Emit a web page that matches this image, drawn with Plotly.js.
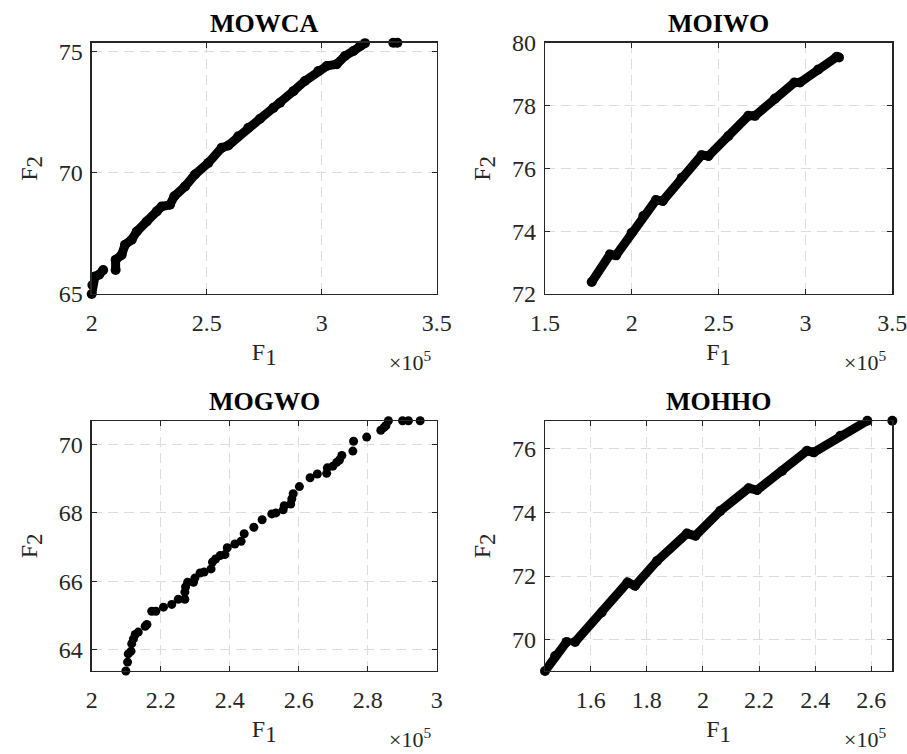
<!DOCTYPE html>
<html><head><meta charset="utf-8">
<script src="https://cdn.plot.ly/plotly-3.0.1.min.js"></script>
<style>html,body{margin:0;padding:0;background:#fff}</style>
</head><body><div id="chart" style="width:907px;height:754px"></div>
<script>
// F1 values are in units of 1e5 (as shown with the "×10^5" axis multiplier)
const mowcaF1 = [2.000,2.003,2.014,2.032,2.050,null,2.104,2.104,2.130,2.145,2.174,2.196,2.239,2.283,2.304,2.340,2.359,2.406,2.449,2.507,2.565,2.594,2.637,2.681,2.732,2.790,2.819,2.877,2.927,2.985,3.022,3.065,3.101,3.138,3.167,3.188,null,3.311,3.329];
const mowcaF2 = [65.00,65.37,65.72,65.79,65.99,null,65.99,66.41,66.61,67.03,67.24,67.58,67.99,68.41,68.61,68.68,69.03,69.44,69.93,70.41,71.03,71.13,71.51,71.86,72.23,72.68,72.89,73.37,73.79,74.20,74.41,74.48,74.82,75.03,75.24,75.35,null,75.37,75.37];

const moiwoF1 = [1.769,1.874,1.909,1.999,2.066,2.139,2.178,2.287,2.402,2.441,2.556,2.671,2.709,2.824,2.936,2.968,3.074,3.180,3.193];
const moiwoF2 = [72.38,73.26,73.23,73.95,74.48,74.99,74.96,75.70,76.42,76.39,77.03,77.67,77.67,78.22,78.73,78.73,79.15,79.55,79.53];

const mogwoF1 = [2.099,2.104,2.106,2.114,2.116,2.121,2.126,2.135,2.155,2.160,2.174,2.186,2.208,2.232,2.251,2.270,2.270,2.272,2.278,2.295,2.299,2.314,2.326,2.346,2.350,2.359,2.372,2.386,2.393,2.415,2.433,2.442,2.470,2.494,2.522,2.534,2.555,2.558,2.577,2.580,2.584,2.602,2.633,2.654,2.681,2.683,2.699,2.710,2.718,2.725,2.757,2.759,2.797,2.838,2.847,2.853,2.860,2.901,2.918,2.952];
const mogwoF2 = [63.37,63.63,63.87,63.95,64.17,64.31,64.44,64.51,64.68,64.73,65.12,65.12,65.24,65.32,65.47,65.47,65.68,65.83,65.97,65.97,66.09,66.24,66.27,66.36,66.56,66.65,66.75,66.78,66.98,67.09,67.17,67.39,67.58,67.80,67.97,68.00,68.09,68.21,68.26,68.41,68.56,68.77,69.03,69.14,69.16,69.32,69.37,69.48,69.55,69.68,69.81,70.10,70.22,70.42,70.50,70.56,70.70,70.70,70.70,70.70];

const mohhoF1 = [1.437,1.473,1.514,null,1.544,1.639,1.731,1.758,1.836,1.943,1.973,2.062,2.163,2.193,2.282,2.371,2.395,2.490,2.586,null,2.675];
const mohhoF2 = [69.03,69.50,69.94,null,69.94,70.86,71.80,71.70,72.47,73.33,73.26,74.04,74.75,74.69,75.29,75.92,75.87,76.39,76.86,null,76.86];

const titles = ["MOWCA","MOIWO","MOGWO","MOHHO"];
const xTicks = [[2,2.5,3,3.5],[1.5,2,2.5,3,3.5],[2,2.2,2.4,2.6,2.8,3],[1.6,1.8,2,2.2,2.4,2.6]];
const yTicks = [[65,70,75],[72,74,76,78,80],[64,66,68,70],[70,72,74,76]];
const xRanges = [[2,3.5],[1.5,3.5],[2,3],[1.437,2.675]];
const yRanges = [[65,75.37],[72,80],[63.37,70.70],[69.03,76.86]];

const FONT = "Liberation Serif, serif";
const AXC = "#262626";

const xDom = [[0.1011,0.4815],[0.6009,0.9838],[0.1011,0.4815],[0.6009,0.9838]];
const yDom = [[0.6101,0.9434],[0.6101,0.9434],[0.1101,0.4420],[0.1101,0.4420]];

function denseTrace(x,y,i){
  return {x:x,y:y,type:"scatter",mode:"lines+markers",cliponaxis:false,connectgaps:false,
    line:{color:"#000",width:9},marker:{color:"#000",size:10},
    xaxis:"x"+(i?i+1:""),yaxis:"y"+(i?i+1:""),showlegend:false};
}
const data = [
  denseTrace(mowcaF1,mowcaF2,0),
  denseTrace(moiwoF1,moiwoF2,1),
  {x:mogwoF1,y:mogwoF2,type:"scatter",mode:"markers",cliponaxis:false,
   marker:{color:"#000",size:9},xaxis:"x3",yaxis:"y3",showlegend:false},
  denseTrace(mohhoF1,mohhoF2,3)
];

const layout = {width:907,height:754,margin:{l:0,r:0,t:0,b:0},
  paper_bgcolor:"#fff",plot_bgcolor:"#fff",font:{family:FONT,color:AXC,size:22},
  showlegend:false,annotations:[]};

const subX = "F<sub><span style=\"font-size:23px\">1</span></sub>";
const subY = "F<sub><span style=\"font-size:23px\">2</span></sub>";

for(let i=0;i<4;i++){
  const s = i?String(i+1):"";
  layout["xaxis"+s] = {domain:xDom[i],range:xRanges[i],anchor:"y"+s,
    tickmode:"array",tickvals:xTicks[i],ticks:"inside",ticklen:5,tickcolor:AXC,
    showline:true,linecolor:AXC,linewidth:1.2,mirror:"ticks",zeroline:false,
    showgrid:true,gridcolor:"#dcdcdc",griddash:"10px,6px",gridwidth:1,
    ticklabeloverflow:"allow",
    ticklabelstandoff:7,tickfont:{family:FONT,size:24,color:AXC},
    title:{text:subX,font:{family:FONT,size:24,color:AXC},standoff:8}};
  layout["yaxis"+s] = {domain:yDom[i],range:yRanges[i],anchor:"x"+s,
    tickmode:"array",tickvals:yTicks[i],ticks:"inside",ticklen:5,tickcolor:AXC,
    showline:true,linecolor:AXC,linewidth:1.2,mirror:"ticks",zeroline:false,
    showgrid:true,gridcolor:"#dcdcdc",griddash:"10px,6px",gridwidth:1,
    ticklabeloverflow:"allow",
    ticklabelstandoff:3,tickfont:{family:FONT,size:24,color:AXC},
    title:{text:subY,font:{family:FONT,size:24,color:AXC},standoff:14}};
  const xc = (xDom[i][0]+xDom[i][1])/2;
  layout.annotations.push({text:"<b>"+titles[i]+"</b>",xref:"paper",yref:"paper",
    x:xc,y:yDom[i][1]+19/754,xanchor:"center",yanchor:"middle",showarrow:false,
    font:{family:FONT,size:26,color:"#000"}});
  layout.annotations.push({text:"×10<sup>5</sup>",xref:"paper",yref:"paper",
    x:xDom[i][1]-4/907,y:yDom[i][0]-67/754,xanchor:"right",yanchor:"middle",showarrow:false,
    font:{family:FONT,size:22,color:AXC}});
}

Plotly.newPlot("chart",data,layout,{displayModeBar:false,staticPlot:true});
</script></body></html>
